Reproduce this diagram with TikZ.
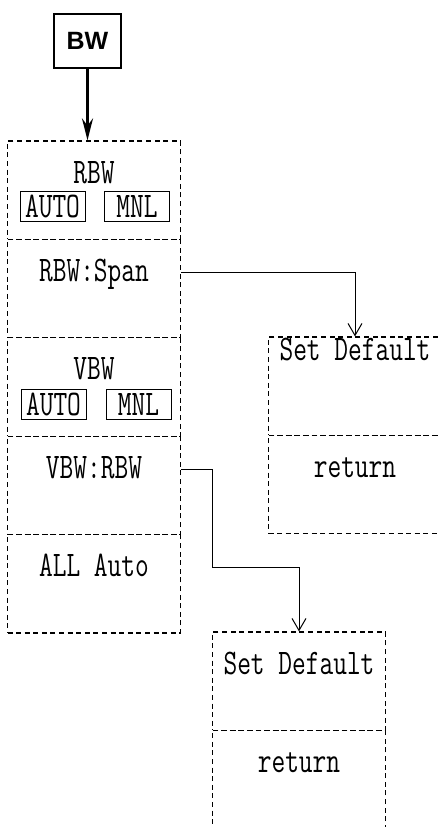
\documentclass[tikz,border=0pt]{standalone}
\usepackage{fontspec}
\usepackage{tikz}
\usetikzlibrary{positioning,arrows.meta}
\newfontfamily\keyfont{Liberation Sans}
\newcommand{\menufont}{\ttfamily\fontsize{18}{20}\selectfont}
\newcommand{\mt}[1]{\scalebox{0.74}[1]{#1}}

\begin{document}
\begin{tikzpicture}[x=0.5pt, y=-0.5pt,
  keybox/.style={draw, line width=1.3pt, minimum width=33.5pt, minimum height=27pt,
                 font=\keyfont\bfseries\fontsize{12.5}{14}\selectfont, inner sep=0pt},
  menurow/.style={draw, dashed, dash pattern=on 2.5pt off 1.8pt, line width=0.6pt,
                  minimum width=86.5pt, text height=21pt, text depth=28.2pt,
                  inner sep=0pt, font=\menufont},
  toprow/.style={menurow, text height=11.5pt, text depth=37.7pt},
  modebox/.style={draw, line width=0.5pt, minimum width=32.5pt, minimum height=15pt,
                  inner sep=0pt, font=\menufont},
  keyarr/.style={-{Stealth[length=11pt, width=5.5pt]}, line width=1.1pt},
  subarr/.style={-{Straight Barb[length=6pt, width=7pt]}, line width=0.5pt},
]
\clip (0,0) rectangle (439,827);

% --- key ---
\node[keybox] (bw) at (87.5,41) {BW};

% --- left: BW menu ---
\node[menurow] (rbw)     at (94,190.2) {\mt{RBW}};
\node[menurow] (rbwspan) at (94,288.6) {\mt{RBW:Span}};
\node[menurow] (vbw)     at (94,387.0) {\mt{VBW}};
\node[menurow] (vbwrbw)  at (94,485.4) {\mt{VBW:RBW}};
\node[menurow] (allauto) at (94,583.8) {\mt{ALL Auto}};

\node[modebox] (rbwauto) at (52.5,206) {\mt{AUTO}};
\node[modebox] (rbwmnl)  at (137,206)  {\mt{MNL}};
\node[modebox] (vbwauto) at (53.5,404) {\mt{AUTO}};
\node[modebox] (vbwmnl)  at (138.5,404) {\mt{MNL}};

% --- right: sub menus ---
\node[toprow]  (spandef) at (355,386.2) {\mt{Set Default}};
\node[menurow] (spanret) at (355,484.6) {\mt{return}};

\node[menurow] (ratiodef) at (299,681.2) {\mt{Set Default}};
\node[menurow] (ratioret) at (299,779.6) {\mt{return}};

% --- connectors ---
\draw[keyarr] (bw.south) -- (bw.south |- rbw.north);
\draw[subarr] ([yshift=8pt]rbwspan.east) -| (spandef.north);
\coordinate (ratiobend) at (212,567);
\draw[subarr] ([yshift=8pt]vbwrbw.east) -| (ratiobend) -| (ratiodef.north);
\end{tikzpicture}
\end{document}
